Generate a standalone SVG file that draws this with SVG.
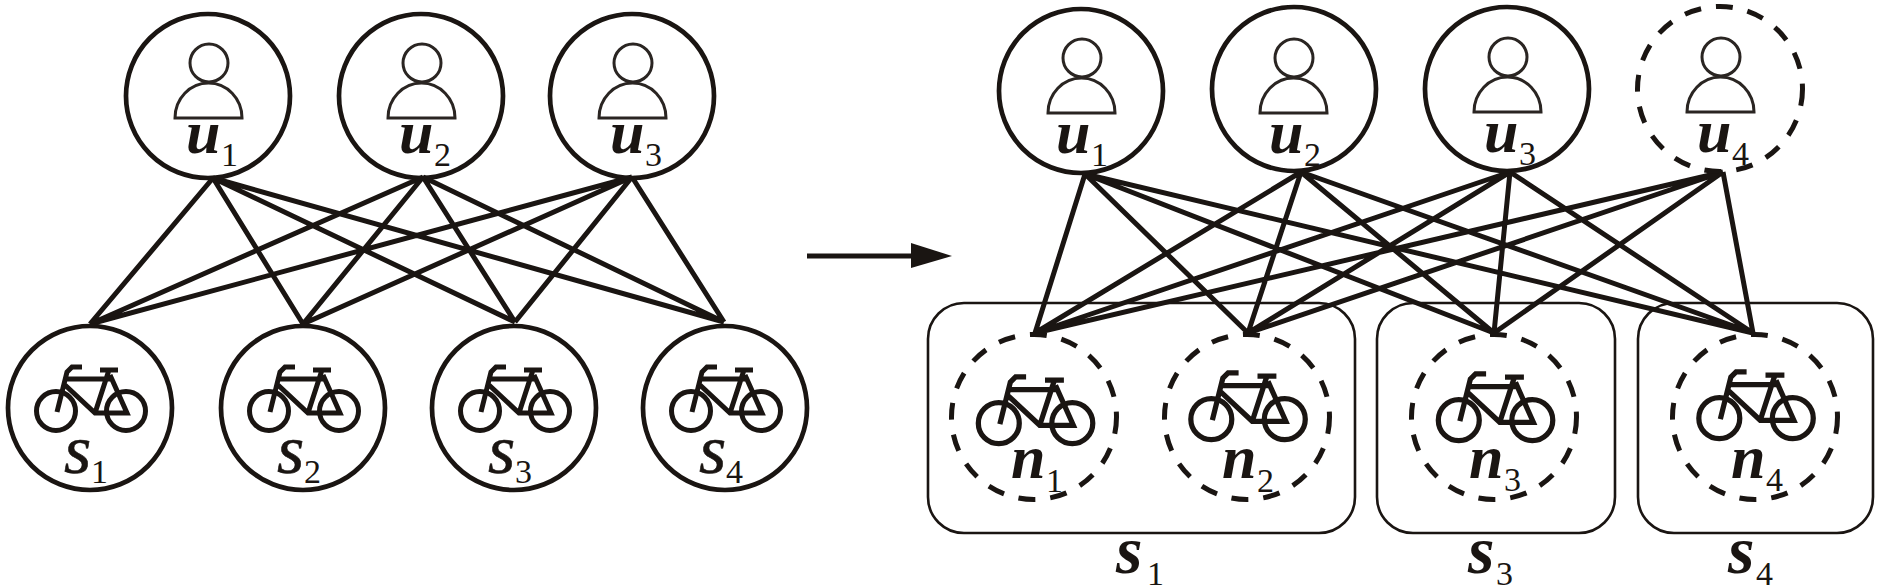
<svg xmlns="http://www.w3.org/2000/svg" width="1880" height="588" viewBox="0 0 1880 588">
<style>
.solid{fill:none;stroke:#1a1512;stroke-width:4.7}
.dash{fill:none;stroke:#1a1512;stroke-width:5;stroke-dasharray:17 15}
.box{fill:none;stroke:#1a1512;stroke-width:2.6}
.edge{fill:none;stroke:#1a1512;stroke-width:5}
.p{fill:none;stroke:#2a2522;stroke-width:3}
.b{fill:none;stroke:#1a1512;stroke-width:5}
.l{font-family:"Liberation Serif",serif;font-style:italic;font-weight:bold;font-size:62px;fill:#1a1512}
.c{font-family:"Liberation Serif",serif;font-style:italic;font-weight:bold;font-size:68px;fill:#1a1512}
.ll{font-family:"Liberation Serif",serif;font-style:italic;font-size:70px;fill:#1a1512;stroke:#1a1512;stroke-width:.6}
.s{font-family:"Liberation Serif",serif;font-size:34px;fill:#1a1512}
</style>
<defs>
<g id="person"><circle class="p" cx="1" cy="-33" r="19"/><path class="p" d="M-33,22 A33.5,35 0 0 1 34,22 Z"/></g>
<g id="bike"><circle class="b" cx="-34" cy="3" r="19.5"/><circle class="b" cx="36" cy="3" r="19.5"/><path class="b" d="M-8,-41 H-18 L-23,-36 L-33,4 M-25,-29 H22 M10,-38 H28 M19,-38 L5,5 M-25,-23 L5,5 H37 L20,-33"/></g>
</defs>
<g id="connectors">
<path class="edge" d="M213,178L90,324M213,178L303,324M213,178L515,322M213,178L724,322M423,177L90,324M423,177L303,324M423,177L515,322M423,177L724,322M632,177L90,324M632,177L303,324M632,177L515,322M632,177L724,322"/>
<path class="edge" d="M1085,174L1035,333M1085,174L1248,333M1085,174L1494,333M1085,174L1753,333M1301,172L1035,333M1301,172L1248,333M1301,172L1494,333M1301,172L1753,333M1510,172L1035,333M1510,172L1248,333M1510,172L1494,333M1510,172L1753,333M1723,172L1035,333M1723,172L1248,333M1723,172L1494,333M1723,172L1753,333"/>
<path class="edge" d="M807,256H920"/><polygon points="911,243 952,256 911,268" fill="#1a1512"/>
</g>
<g id="left-u1"><circle class="solid" cx="208" cy="96" r="82"/><use href="#person" x="208" y="96"/><text class="l" x="186" y="153">u</text><text class="s" x="221" y="166">1</text></g>
<g id="left-u2"><circle class="solid" cx="421" cy="96" r="82"/><use href="#person" x="421" y="96"/><text class="l" x="399" y="153">u</text><text class="s" x="434" y="166">2</text></g>
<g id="left-u3"><circle class="solid" cx="632" cy="96" r="82"/><use href="#person" x="632" y="96"/><text class="l" x="610" y="153">u</text><text class="s" x="645" y="166">3</text></g>
<g id="left-s1"><circle class="solid" cx="90" cy="408" r="82"/><use href="#bike" x="90" y="408"/><text class="ll" x="64" y="473">s</text><text class="s" x="91" y="483">1</text></g>
<g id="left-s2"><circle class="solid" cx="303" cy="408" r="82"/><use href="#bike" x="303" y="408"/><text class="ll" x="277" y="473">s</text><text class="s" x="304" y="483">2</text></g>
<g id="left-s3"><circle class="solid" cx="514" cy="408" r="82"/><use href="#bike" x="514" y="408"/><text class="ll" x="488" y="473">s</text><text class="s" x="515" y="483">3</text></g>
<g id="left-s4"><circle class="solid" cx="725" cy="408" r="82"/><use href="#bike" x="725" y="408"/><text class="ll" x="699" y="473">s</text><text class="s" x="726" y="483">4</text></g>
<g id="right-u1"><circle class="solid" cx="1081" cy="91" r="82"/><use href="#person" x="1081" y="91"/><text class="l" x="1056" y="153">u</text><text class="s" x="1091" y="166">1</text></g>
<g id="right-u2"><circle class="solid" cx="1294" cy="89" r="82"/><use href="#person" x="1293" y="91"/><text class="l" x="1269" y="153">u</text><text class="s" x="1304" y="166">2</text></g>
<g id="right-u3"><circle class="solid" cx="1507" cy="89" r="82"/><use href="#person" x="1507" y="90"/><text class="l" x="1484" y="152">u</text><text class="s" x="1519" y="165">3</text></g>
<g id="right-u4"><circle class="dash" cx="1720" cy="89" r="82.5"/><use href="#person" x="1720" y="90"/><text class="l" x="1697" y="152">u</text><text class="s" x="1732" y="165">4</text></g>
<g id="cluster-s1"><rect class="box" x="928" y="303" width="427" height="230" rx="36"/><text class="c" x="1116" y="573">s</text><text class="s" x="1147" y="585">1</text></g>
<g id="cluster-s3"><rect class="box" x="1377" y="303" width="238" height="230" rx="36"/><text class="c" x="1468" y="573">s</text><text class="s" x="1496" y="585">3</text></g>
<g id="cluster-s4"><rect class="box" x="1638" y="303" width="235" height="230" rx="36"/><text class="c" x="1728" y="573">s</text><text class="s" x="1756" y="585">4</text></g>
<g id="right-n1"><circle class="dash" cx="1034" cy="417" r="82.5"/><use href="#bike" transform="translate(1034.5,420) scale(1.05)"/><text class="l" x="1011" y="478">n</text><text class="s" x="1046" y="492">1</text></g>
<g id="right-n2"><circle class="dash" cx="1247" cy="417" r="82.5"/><use href="#bike" transform="translate(1247,416) scale(1.05)"/><text class="l" x="1222" y="478">n</text><text class="s" x="1257" y="492">2</text></g>
<g id="right-n3"><circle class="dash" cx="1494" cy="417" r="82.5"/><use href="#bike" transform="translate(1494.5,417) scale(1.05)"/><text class="l" x="1469" y="478">n</text><text class="s" x="1504" y="491">3</text></g>
<g id="right-n4"><circle class="dash" cx="1755" cy="417" r="82.5"/><use href="#bike" transform="translate(1755,415) scale(1.05)"/><text class="l" x="1731" y="478">n</text><text class="s" x="1766" y="491">4</text></g>
</svg>
